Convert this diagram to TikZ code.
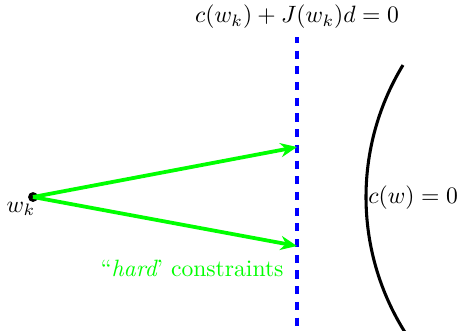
\documentclass[tikz,border=0pt]{standalone}
\usetikzlibrary{arrows.meta}
\definecolor{hardgreen}{RGB}{0,255,0}
\begin{document}
\begin{tikzpicture}[x=0.4236pt,y=-0.4236pt,
  constr/.style={draw=blue,line width=1.35pt,dash pattern=on 3.4pt off 3.25pt,dash phase=0.85pt},
  garrow/.style={draw=hardgreen,line width=1.6pt,-{Stealth[length=7pt,width=6pt]}},
  curve/.style={draw=black,line width=1.3pt}]
\useasboundingbox (0,0) rectangle (460,330);
\clip (0,0) rectangle (460,330);
\coordinate (ltop) at (297,37);
\coordinate (lbot) at (297,332);
\draw[constr] (ltop) -- (lbot);
\node (toplab) at (297,17) {$c(w_k)+J(w_k)d=0$};
\node[circle,fill=black,inner sep=0pt,minimum size=4.2pt] (wk) at (33,197) {};
\node (wklab) at (21,209) {$w_k$};
\coordinate (t1) at (297,147);
\coordinate (t2) at (297,246);
\draw[garrow] (wk.center) -- (t1);
\draw[garrow] (wk.center) -- (t2);
\node[text=hardgreen] (hard) at (192,268) {``{\itshape hard}' constraints};
\coordinate (ctr) at (620,197);
\draw[curve] (ctr) ++(145:254) arc[start angle=145,end angle=211.3,radius=254];
\node[anchor=west,inner sep=0pt] (cw) at (368,198) {$c(w)=0$};
\end{tikzpicture}
\end{document}
